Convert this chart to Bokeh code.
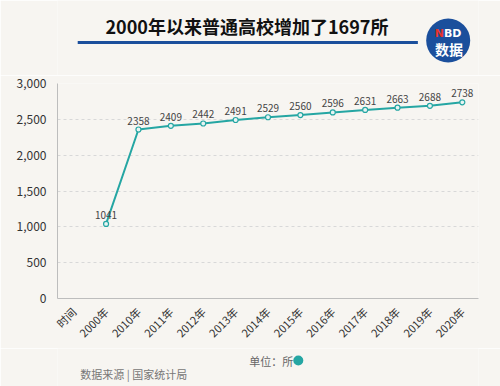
from bokeh.plotting import figure
from bokeh.layouts import column
from bokeh.models import (ColumnDataSource, FactorRange, Range1d, NumeralTickFormatter, LabelSet)
from bokeh.embed import file_html
from bokeh.resources import INLINE
from bokeh.core.properties import value
import math

# ---- data ----
categories = ["时间", "2000年", "2010年", "2011年", "2012年", "2013年", "2014年",
              "2015年", "2016年", "2017年", "2018年", "2019年", "2020年"]
years = ["2000年", "2010年", "2011年", "2012年", "2013年", "2014年",
         "2015年", "2016年", "2017年", "2018年", "2019年", "2020年"]
schools = [1041, 2358, 2409, 2442, 2491, 2529, 2560, 2596, 2631, 2663, 2688, 2738]
title_text = "2000年以来普通高校增加了1697所"
unit_text = "单位：所"
source_text = "数据来源 | 国家统计局"

BG = "#f7f5f1"
TEAL = "#25a6a3"
BLUE = "#1b4f9c"
FONT = "Noto Sans CJK SC"
W = 500


def deco_fig(h):
    f = figure(width=W, height=h, output_backend="svg", toolbar_location=None,
               x_range=Range1d(0, W), y_range=Range1d(h, 0),
               min_border=0, min_border_left=0, min_border_right=0,
               min_border_top=0, min_border_bottom=0)
    f.axis.visible = False
    f.grid.grid_line_color = None
    f.outline_line_color = None
    f.background_fill_color = BG
    f.border_fill_color = BG
    return f


# ---- header (page y 0..75) ----
H1 = 75
hd = deco_fig(H1)
hd.text(x=[225], y=[25], text=[title_text], text_align="center", text_baseline="middle",
        text_font_size="18px", text_font_style="bold", text_color="#111111",
        text_font=value(FONT))
hd.line(x=[24, 428], y=[42, 42], line_color=BLUE, line_width=3)
hd.scatter(x=[464], y=[40], size=44, fill_color=BLUE, line_color=None)
hd.text(x=[459], y=[33], text=["N"], text_align="right", text_baseline="middle",
        text_font_size="11px", text_font_style="bold", text_color="#e8332a",
        text_font=value("DejaVu Sans"))
hd.text(x=[459], y=[33], text=["BD"], text_align="left", text_baseline="middle",
        text_font_size="11px", text_font_style="bold", text_color="white",
        text_font=value("DejaVu Sans"))
hd.text(x=[465], y=[48], text=["数据"], text_align="center", text_baseline="middle",
        text_font_size="14px", text_font_style="bold", text_color="white",
        text_font=value(FONT))

# ---- main chart (page y 75..348) ----
src = ColumnDataSource(dict(x=years, y=schools, lbl=[str(v) for v in schools]))

p = figure(width=W, height=273, output_backend="svg", toolbar_location=None,
           x_range=FactorRange(*categories, range_padding=0),
           y_range=Range1d(0, 3000),
           min_border_left=57, min_border_right=22, min_border_top=8, min_border_bottom=50)
p.background_fill_color = BG
p.border_fill_color = BG
p.outline_line_color = None

p.line("x", "y", source=src, line_color=TEAL, line_width=2)
p.scatter("x", "y", source=src, size=5, line_color=TEAL, fill_color="#e8f4f3", line_width=1.2)

labels = LabelSet(x="x", y="y", text="lbl", source=src, y_offset=5, text_align="center",
                  text_baseline="bottom", text_font_size="10px", text_color="#444444",
                  text_font=value(FONT))
p.add_layout(labels)

p.yaxis.formatter = NumeralTickFormatter(format="0,0")
p.yaxis.ticker = [0, 500, 1000, 1500, 2000, 2500, 3000]
for ax in (p.xaxis[0], p.yaxis[0]):
    ax.axis_line_color = "#bdbdbd"
    ax.major_tick_line_color = None
    ax.minor_tick_line_color = None
    ax.major_label_text_color = "#333333"
    ax.major_label_text_font = FONT
p.yaxis.major_label_text_font_size = "12px"
p.yaxis.major_label_standoff = 5
p.xaxis.major_label_text_font_size = "11px"
p.xaxis.major_label_orientation = math.pi / 4
p.xaxis.major_label_standoff = 5

p.xgrid.grid_line_color = None
p.ygrid.grid_line_color = "#d8d8d8"
p.ygrid.grid_line_dash = "3 3"

# ---- footer (page y 348..386) ----
H3 = 38
ft = deco_fig(H3)
ft.text(x=[280], y=[12], text=[unit_text], text_align="right", text_baseline="middle",
        text_font_size="11px", text_color="#666666", text_font=value(FONT))
ft.scatter(x=[286], y=[12], size=10, fill_color=TEAL, line_color=None)
ft.text(x=[27], y=[25], text=[source_text], text_align="left", text_baseline="middle",
        text_font_size="11px", text_color="#777777", text_font=value(FONT))

layout = column(hd, p, ft, spacing=0)
html = file_html(layout, INLINE)
html = html.replace("<body>", "<body style=\"background:%s\">" % BG, 1)
open("out.html", "w").write(html)
